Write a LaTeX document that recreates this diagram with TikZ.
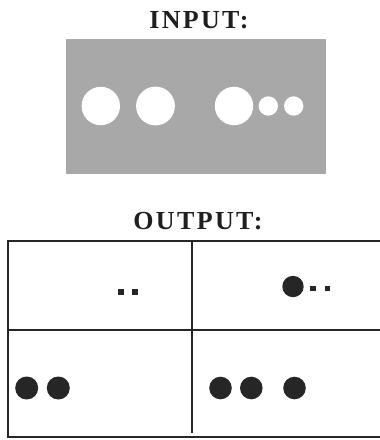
\documentclass[tikz,border=0pt]{standalone}
\usepackage{fontspec}
\setmainfont{Liberation Serif}
\begin{document}
\begin{tikzpicture}[x=1pt,y=-1pt,
  title/.style={font=\fontsize{26}{26}\selectfont\bfseries\addfontfeatures{LetterSpace=9}, text=black!88, inner sep=0pt, anchor=base},
  hole/.style={fill=white},
  blob/.style={fill=black!85},
  gridline/.style={draw=black!85, line width=1.8pt}]
\useasboundingbox (0,0) rectangle (380,440);
\fill[white] (0,0) rectangle (380,440);
% INPUT
\node[title] (input) at (199,28) {INPUT:};
\fill[black!34] (66,39) rectangle (326,174);
\fill[hole] (100.8,106) circle (19.2);
\fill[hole] (155.5,106) circle (19.4);
\fill[hole] (234,106) circle (19.2);
\fill[hole] (268.3,106) circle (9.7);
\fill[hole] (293.7,106) circle (9.7);
% OUTPUT
\node[title] (output) at (198,229) {OUTPUT:};
\draw[gridline] (381,241) -- (8,241) -- (8,437) -- (381,437);
\draw[gridline] (8,330) -- (381,330);
\draw[gridline] (191.7,241) -- (191.7,433);
% top-left cell
\fill[blob] (117.5,288.5) rectangle (124,295);
\fill[blob] (131.8,288.5) rectangle (138.3,295);
% top-right cell
\fill[blob] (293,286.5) circle (10.7);
\fill[blob] (310.3,285.8) rectangle (315.8,291.3);
\fill[blob] (324.5,285.8) rectangle (330.3,291.3);
% bottom-left cell
\fill[blob] (26.7,388) circle (11.5);
\fill[blob] (58.3,388) circle (11.5);
% bottom-right cell
\fill[blob] (220.5,388) circle (11.3);
\fill[blob] (251.3,388) circle (11.3);
\fill[blob] (294.5,388) circle (11.3);
\end{tikzpicture}
\end{document}
